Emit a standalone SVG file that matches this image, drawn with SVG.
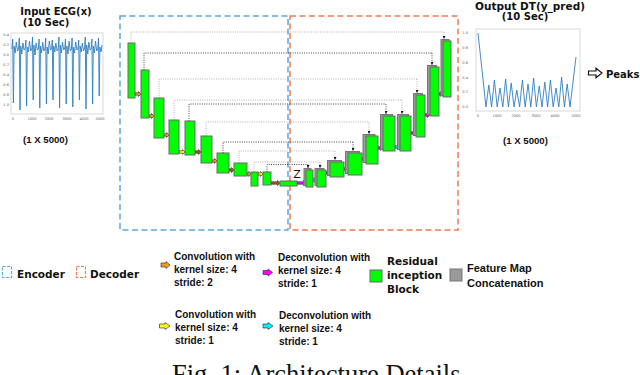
<svg xmlns="http://www.w3.org/2000/svg" width="640" height="375" viewBox="0 0 640 375">
<style>
.t{font-family:"DejaVu Sans",Verdana,sans-serif;font-weight:bold;fill:#111}
.n{font-family:"Liberation Sans",Arial,sans-serif;font-weight:bold;fill:#111}
.tk{font-family:"DejaVu Sans",sans-serif;font-size:3.6px;fill:#666}
.frame{fill:#fff;stroke:#cfcfcf;stroke-width:0.8}
.sig{fill:none;stroke:#2f7fc1;stroke-width:0.9;stroke-linejoin:round}
.g{fill:#00ff00;stroke:#6a6a6a;stroke-width:1}
.c{fill:#9a9a9a;stroke:#777;stroke-width:1}
.enc{fill:none;stroke:#5aa9e0;stroke-width:1.5;stroke-dasharray:6 3.5}
.dec{fill:none;stroke:#f47a50;stroke-width:1.5;stroke-dasharray:6 3.5}
.dl{fill:none;stroke:#aaa;stroke-width:0.9;stroke-dasharray:1 1.3}
.dd{fill:none;stroke:#333;stroke-width:0.9;stroke-dasharray:1 1.3}
.ar{stroke:#222;stroke-width:0.6;stroke-linejoin:miter}
.or{fill:#f0a020}.br{fill:#9c5c1c}.ye{fill:#ffff00}.mg{fill:#ff00ff}.cy{fill:#00f0ff}
</style>
<defs>
<marker id="tip" viewBox="0 0 4 4" refX="4" refY="2" markerWidth="3" markerHeight="3" markerUnits="userSpaceOnUse" orient="auto"><path d="M0,0 L4,2 L0,4 z" fill="#111"/></marker>
</defs>

<!-- Input ECG -->
<g id="input-plot">
<text class="t" x="56" y="15" font-size="10" text-anchor="middle">Input ECG(x)</text>
<text class="t" x="46" y="25.5" font-size="10" text-anchor="middle">(10 Sec)</text>
<rect class="frame" x="11" y="33" width="92" height="81"/>
<g class="tk" text-anchor="end">
<text x="9" y="36">0.4</text><text x="9" y="46">0.2</text><text x="9" y="56">0.0</text><text x="9" y="66">-0.2</text><text x="9" y="76">-0.4</text><text x="9" y="86">-0.6</text><text x="9" y="96">-0.8</text><text x="9" y="106">-1.0</text>
</g>
<g class="tk" text-anchor="middle">
<text x="13" y="119.5">0</text><text x="32" y="119.5">1000</text><text x="49" y="119.5">2000</text><text x="67" y="119.5">3000</text><text x="84" y="119.5">4000</text><text x="100" y="119.5">5000</text>
</g>
<polyline class="sig" points="12,49 12.7,39 13.4,103 14.1,46 15.2,53 16.3,42 17.5,51 18.6,49 19.3,38 20,110 20.7,46 21.8,54 22.9,43 24.1,50 25.2,48 25.9,40 26.6,106 27.3,47 28.4,52 29.5,41 30.7,51 31.8,49 32.5,37 33.2,100 33.9,45 35,55 36.1,43 37.3,50 38.4,49 39.1,39 39.8,108 40.5,46 41.6,53 42.7,42 43.9,51 45,48 45.7,38 46.4,104 47.1,47 48.2,54 49.3,41 50.5,50 51.6,49 52.3,40 53,100 53.7,46 54.8,52 55.9,43 57.1,51 58.2,49 58.9,37 59.6,108 60.3,45 61.4,53 62.5,42 63.7,50 64.8,48 65.5,39 66.2,104 66.9,46 68,54 69.1,41 70.3,51 71.4,49 72.1,38 72.8,107 73.5,47 74.6,53 75.7,42 76.9,50 78,49 78.7,40 79.4,100 80.1,46 81.2,52 82.3,43 83.5,51 84.6,48 85.3,37 86,109 86.7,45 87.8,54 88.9,42 90.1,50 91.2,49 91.9,39 92.6,104 93.3,46 94.4,53 95.5,41 96.7,51 97.8,49 98.5,38 99.2,96 99.9,47 101,52 102,45"/>
<text class="n" x="45.5" y="143" font-size="9.6" text-anchor="middle">(1 X 5000)</text>
</g>

<!-- Output DT -->
<g id="output-plot">
<text class="t" x="530" y="10" font-size="10.5" text-anchor="middle">Output DT(y_pred)</text>
<text class="t" x="525" y="20" font-size="10" text-anchor="middle">(10 Sec)</text>
<rect class="frame" x="476" y="29" width="104" height="82"/>
<g class="tk" text-anchor="end">
<text x="468" y="34">1.0</text><text x="468" y="49">0.8</text><text x="468" y="64">0.6</text><text x="468" y="79">0.4</text><text x="468" y="93">0.2</text><text x="468" y="108">0.0</text>
</g>
<g class="tk" text-anchor="middle">
<text x="478" y="117">0</text><text x="497" y="117">1000</text><text x="516" y="117">2000</text><text x="536" y="117">3000</text><text x="555" y="117">4000</text><text x="576" y="117">5000</text>
</g>
<polyline class="sig" points="478,33 486,107 488.8,85 491.6,107 494.4,80 497.2,107 500,88 502.8,107 505.6,79 508.4,107 511.2,83 514,107 516.8,90 519.6,107 522.4,80 525.2,107 528,84 530.8,107 533.6,78 536.4,107 539.2,86 542,107 544.8,82 547.6,107 550.4,80 553.2,107 556,88 558.8,107 561.6,77 564.4,107 567.2,84 570,107 576,57"/>
<text class="n" x="525.5" y="144" font-size="9.6" text-anchor="middle">(1 X 5000)</text>
</g>

<g id="peaks">
<polygon points="588.5,71 596,71 596,68.3 602,73 596,77.7 596,75 588.5,75" fill="#fff" stroke="#111" stroke-width="1.2"/>
<text class="t" x="606" y="77.5" font-size="10">Peaks</text>
</g>

<!-- Encoder / Decoder regions -->
<g id="encoder-region"><rect class="enc" x="120" y="16" width="168" height="214"/></g>
<g id="decoder-region"><rect class="dec" x="290" y="16" width="168" height="214"/></g>

<!-- connectors -->
<g id="connectors">
<path class="dl" d="M131,43 V32 H444"/><path class="dl" d="M444,32 V39" marker-end="url(#tip)"/>
<path class="dd" d="M144,70 V53 H432"/><path class="dd" d="M432,53 V65" marker-end="url(#tip)"/>
<path class="dl" d="M159,98 V79 H417"/><path class="dl" d="M417,79 V93" marker-end="url(#tip)"/>
<path class="dl" d="M174,120 V100 H402"/><path class="dl" d="M402,100 V114" marker-end="url(#tip)"/>
<path class="dd" d="M189,121 V104 H386"/><path class="dd" d="M386,104 V114" marker-end="url(#tip)"/>
<path class="dl" d="M206,136 V122 H369"/><path class="dl" d="M369,122 V134" marker-end="url(#tip)"/>
<path class="dd" d="M223,153 V142 H353"/><path class="dd" d="M353,142 V151" marker-end="url(#tip)"/>
<path class="dl" d="M239,163 V151 H335"/><path class="dl" d="M335,151 V160" marker-end="url(#tip)"/>
<path class="dl" d="M254,172 V162 H320"/><path class="dl" d="M320,162 V168" marker-end="url(#tip)"/>
<path class="dd" d="M267,172 V164.5 H308"/><path class="dd" d="M308,164.5 V168" marker-end="url(#tip)"/>

<polygon class="ar or" points="135,92.8 138.5,92.8 138.5,91.5 141,94 138.5,96.5 138.5,95.2 135,95.2"/>
<polygon class="ar or" points="149,114.8 151.5,114.8 151.5,113.5 154,116 151.5,118.5 151.5,117.2 149,117.2"/>
<polygon class="ar or" points="164,133.8 166.5,133.8 166.5,132.5 169,135 166.5,137.5 166.5,136.2 164,136.2"/>
<polygon class="ar ye" points="179,150.8 182.5,150.8 182.5,149.5 185,152 182.5,154.5 182.5,153.2 179,153.2"/>
<polygon class="ar br" points="195,150.8 198.5,150.8 198.5,149.5 201,152 198.5,154.5 198.5,153.2 195,153.2"/>
<polygon class="ar or" points="212,159.8 214.5,159.8 214.5,158.5 217,161 214.5,163.5 214.5,162.2 212,162.2"/>
<polygon class="ar br" points="229,168.8 231.5,168.8 231.5,167.5 234,170 231.5,172.5 231.5,171.2 229,171.2"/>
<polygon class="ar or" points="247,172.8 248.8,172.8 248.8,171.5 251,174 248.8,176.5 248.8,175.2 247,175.2"/>
<polygon class="ar ye" points="258,172.8 260.5,172.8 260.5,171.5 263,174 260.5,176.5 260.5,175.2 258,175.2"/>
<polygon class="ar br" points="271,181.8 277.5,181.8 277.5,180.5 280,183 277.5,185.5 277.5,184.2 271,184.2"/>
<polygon class="ar mg" points="297,181.8 303.5,181.8 303.5,180.5 306,183 303.5,185.5 303.5,184.2 297,184.2"/>
<polygon class="ar cy" points="313,178.8 314.8,178.8 314.8,177.5 317,180 314.8,182.5 314.8,181.2 313,181.2"/>
<polygon class="ar mg" points="326,171.8 327.8,171.8 327.8,170.5 330,173 327.8,175.5 327.8,174.2 326,174.2"/>
<polygon class="ar mg" points="344,167.8 345.8,167.8 345.8,166.5 348,169 345.8,171.5 345.8,170.2 344,170.2"/>
<polygon class="ar mg" points="362,157.8 363.8,157.8 363.8,156.5 366,159 363.8,161.5 363.8,160.2 362,160.2"/>
<polygon class="ar mg" points="378,146.8 380.5,146.8 380.5,145.5 383,148 380.5,150.5 380.5,149.2 378,149.2"/>
<polygon class="ar cy" points="395,145.8 397.5,145.8 397.5,144.5 400,147 397.5,149.5 397.5,148.2 395,148.2"/>
<polygon class="ar mg" points="411,131.8 413.5,131.8 413.5,130.5 416,133 413.5,135.5 413.5,134.2 411,134.2"/>
<polygon class="ar mg" points="425,113.8 427.5,113.8 427.5,112.5 430,115 427.5,117.5 427.5,116.2 425,116.2"/>
<polygon class="ar mg" points="439,92.8 440.8,92.8 440.8,91.5 443,94 440.8,96.5 440.8,95.2 439,95.2"/>
</g>

<!-- encoder blocks -->
<g id="e1"><rect class="g" x="128" y="43" width="7" height="55"/></g>
<g id="e2"><rect class="g" x="141" y="70" width="8" height="48"/></g>
<g id="e3"><rect class="g" x="154" y="98" width="10" height="40"/></g>
<g id="e4"><rect class="g" x="169" y="120" width="10" height="34"/></g>
<g id="e5"><rect class="g" x="185" y="121" width="10" height="34"/></g>
<g id="e6"><rect class="g" x="201" y="136" width="11" height="27"/></g>
<g id="e7"><rect class="g" x="217" y="153" width="12" height="20"/></g>
<g id="e8"><rect class="g" x="234" y="163" width="13" height="13"/></g>
<g id="e9"><rect class="g" x="251" y="172" width="7" height="14"/></g>
<g id="e10"><rect class="g" x="263" y="172" width="8" height="13"/></g>
<g id="bottleneck"><rect class="g" x="280" y="181" width="17" height="5"/>
<text x="297" y="177.5" font-family="'DejaVu Sans',sans-serif" font-size="11" fill="#111" text-anchor="middle">Z</text></g>

<!-- decoder blocks -->
<g id="d1"><rect class="c" x="304" y="168.5" width="7" height="17"/><rect class="g" x="306" y="170" width="7" height="17"/></g>
<g id="d2"><rect class="c" x="315" y="168.5" width="9" height="17"/><rect class="g" x="317" y="170" width="9" height="17"/></g>
<g id="d3"><rect class="c" x="327.5" y="160.5" width="14" height="15"/><rect class="g" x="330" y="162" width="14" height="15"/></g>
<g id="d4"><rect class="c" x="345.5" y="151.5" width="14" height="22"/><rect class="g" x="348" y="153" width="14" height="22"/></g>
<g id="d5"><rect class="c" x="363" y="134.5" width="12" height="28"/><rect class="g" x="366" y="136" width="12" height="28"/></g>
<g id="d6"><rect class="c" x="380.5" y="114.5" width="12" height="35"/><rect class="g" x="383" y="116" width="12" height="35"/></g>
<g id="d7"><rect class="c" x="397.5" y="114.5" width="11" height="35"/><rect class="g" x="400" y="116" width="11" height="35"/></g>
<g id="d8"><rect class="c" x="413.5" y="93.5" width="9" height="42"/><rect class="g" x="416" y="95" width="9" height="42"/></g>
<g id="d9"><rect class="c" x="427.5" y="65.5" width="9" height="49"/><rect class="g" x="430" y="67" width="9" height="49"/></g>
<g id="d10"><rect class="c" x="441" y="39.5" width="8" height="56"/><rect class="g" x="443" y="41" width="8" height="56"/></g>

<!-- legend -->
<g id="legend-encoder">
<rect x="2.5" y="266.5" width="9" height="11" fill="none" stroke="#5aa9e0" stroke-width="1.2" stroke-dasharray="3 1.5"/>
<text class="t" x="17" y="277.5" font-size="10.5">Encoder</text>
</g>
<g id="legend-decoder">
<rect x="76.5" y="266.5" width="9" height="11" fill="none" stroke="#f47a50" stroke-width="1.2" stroke-dasharray="3 1.5"/>
<text class="t" x="90" y="277.5" font-size="10.5">Decoder</text>
</g>
<g id="legend-conv2">
<polygon class="ar or" points="161,263 166,263 166,261.5 170,265 166,268.5 166,267 161,267" stroke-width="0.9"/>
<text class="n" font-size="10"><tspan x="174" y="260">Convolution with</tspan><tspan x="174" y="273">kernel size: 4</tspan><tspan x="174" y="286">stride: 2</tspan></text>
</g>
<g id="legend-deconv1">
<polygon class="ar mg" points="263,270.5 268,270.5 268,269 272.5,272.5 268,276 268,274.5 263,274.5" stroke-width="0.9"/>
<text class="n" font-size="10"><tspan x="278" y="261">Deconvolution with</tspan><tspan x="278" y="273.5">kernel size: 4</tspan><tspan x="278" y="286.5">stride: 1</tspan></text>
</g>
<g id="legend-rib">
<rect class="g" x="370" y="270" width="12" height="12"/>
<text class="t" font-size="10.5"><tspan x="387" y="265">Residual</tspan><tspan x="387" y="279">inception</tspan><tspan x="387" y="293">Block</tspan></text>
</g>
<g id="legend-concat">
<rect class="c" x="450" y="269" width="12" height="12"/>
<text class="n" font-size="11"><tspan x="467" y="272">Feature Map</tspan><tspan x="467" y="287">Concatenation</tspan></text>
</g>
<g id="legend-conv1">
<polygon class="ar ye" points="159.5,324 165,324 165,322.5 170,326 165,329.5 165,328 159.5,328" stroke-width="0.9"/>
<text class="n" font-size="10"><tspan x="175" y="318">Convolution with</tspan><tspan x="175" y="331">kernel size: 4</tspan><tspan x="175" y="344">stride: 1</tspan></text>
</g>
<g id="legend-deconv1b">
<polygon class="ar cy" points="263,324 268,324 268,322.5 273,326 268,329.5 268,328 263,328" stroke-width="0.9"/>
<text class="n" font-size="10"><tspan x="279" y="319">Deconvolution with</tspan><tspan x="279" y="332">kernel size: 4</tspan><tspan x="279" y="345">stride: 1</tspan></text>
</g>
<g id="caption">
<text x="172" y="383" font-family="'Liberation Serif','Times New Roman',serif" font-size="26.5" fill="#111">Fig. 1: Architecture Details</text>
</g>
</svg>
